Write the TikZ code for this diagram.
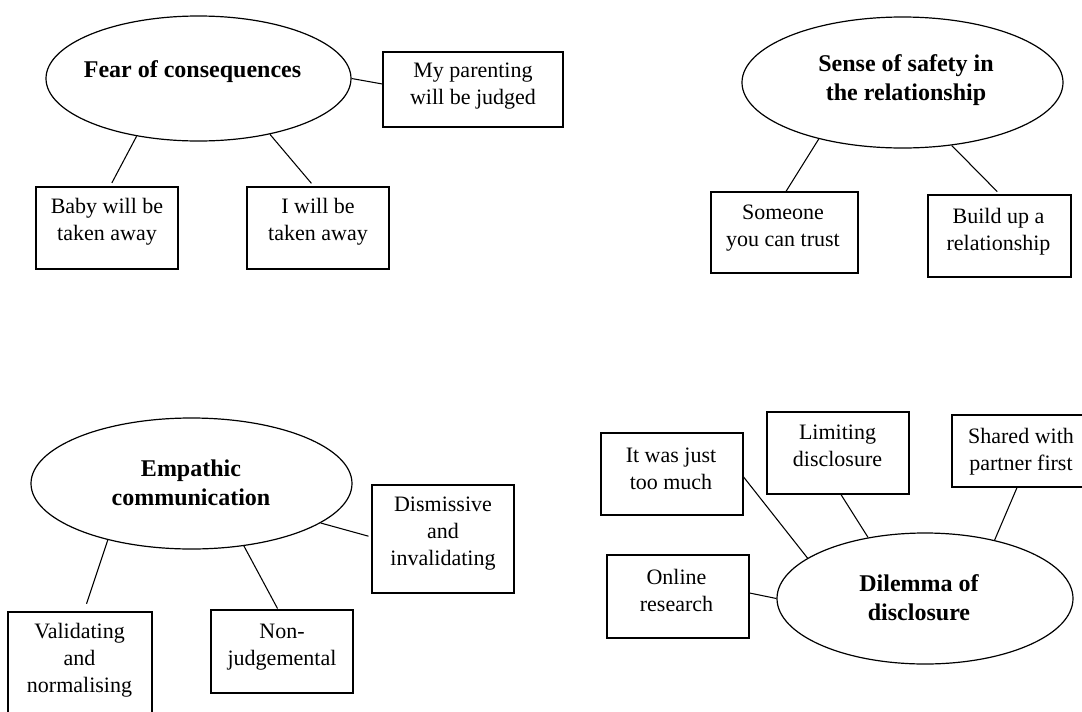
\documentclass[tikz,border=0pt]{standalone}
\usepackage{fontspec}
\setmainfont{Liberation Serif}
\usetikzlibrary{shapes.geometric,calc}
\def\u{0.75pt}
\tikzset{
  hub/.style={draw, ellipse, inner sep=0pt, line width=0.9pt},
  leaf/.style={draw, rectangle, inner sep=0pt, line width=0.9pt},
  sz/.style 2 args={minimum width=#1*\u, minimum height=#2*\u},
  hubtext/.style={align=center, inner sep=0pt, font=\fontsize{18pt}{22pt}\selectfont\bfseries},
  leaftext/.style={align=center, inner sep=0pt, font=\fontsize{16.5pt}{20.25pt}\selectfont},
  link/.style={line width=0.8pt},
}
\begin{document}
\begin{tikzpicture}[x=0.75pt,y=-0.75pt]
\useasboundingbox (0,0) rectangle (1082,711);
\clip (0,0) rectangle (1082,711);
\fill[white] (0,0) rectangle (1082,711);

% ---- Fear of consequences
\node[hub, sz={305}{125}] (e1) at (198.5,78.5) {};
\node[hubtext] (t1) at (192.5,72) {Fear of consequences};
\node[leaf, sz={180}{75}] (b11) at (473,89.5) {};
\node[leaftext] (t11) at (473,86) {My parenting\\will be judged};
\node[leaf, sz={142}{82}] (b12) at (107,228) {};
\node[leaftext] (t12) at (107,221.5) {Baby will be\\taken away};
\node[leaf, sz={142}{82}] (b13) at (318,228) {};
\node[leaftext] (t13) at (318,221.5) {I will be\\taken away};

% ---- Sense of safety
\node[hub, sz={321}{131}] (e2) at (902.5,82.5) {};
\node[hubtext] (t2) at (906,80) {Sense of safety in\\the relationship};
\node[leaf, sz={147}{81}] (b21) at (784.5,232.5) {};
\node[leaftext] (t21) at (783,228.5) {Someone\\you can trust};
\node[leaf, sz={143}{82}] (b22) at (999.5,236) {};
\node[leaftext] (t22) at (998.5,231.5) {Build up a\\relationship};

% ---- Empathic communication
\node[hub, sz={321}{131}] (e3) at (191.5,483.5) {};
\node[hubtext] (t3) at (191,482.5) {Empathic\\communication};
\node[leaf, sz={142}{108}] (b31) at (443,539) {};
\node[leaftext] (t31) at (443,534) {Dismissive\\and\\invalidating};
\node[leaf, sz={142}{83}] (b32) at (282,651.5) {};
\node[leaftext] (t32) at (282,647) {Non-\\judgemental};
\node[leaf, sz={144}{108}] (b33) at (80,666) {};
\node[leaftext] (t33) at (79.5,660) {Validating\\and\\normalising};

% ---- Dilemma of disclosure
\node[hub, sz={296}{131}] (e4) at (925,598.5) {};
\node[hubtext] (t4) at (919,597.5) {Dilemma of\\disclosure};
\node[leaf, sz={142}{82}] (b41) at (672,474) {};
\node[leaftext] (t41) at (671,469) {It was just\\too much};
\node[leaf, sz={142}{82}] (b42) at (838,453) {};
\node[leaftext] (t42) at (837.5,446) {Limiting\\disclosure};
\node[leaf, sz={142}{72}] (b43) at (1023,451) {};
\node[leaftext] (t43) at (1021,451.5) {Shared with\\partner first};
\node[leaf, sz={142}{83}] (b44) at (678,596.5) {};
\node[leaftext] (t44) at (676.5,590) {Online\\research};

% ---- connectors
\draw[link] (e1.east) -- ([yshift=5.5*\u]b11.west);
\draw[link, shorten >=4*\u] (e1.223.5) -- ([xshift=3*\u]b12.north);
\draw[link, shorten >=4*\u] (e1.-38.4) -- ([xshift=-4*\u]b13.north);
\draw[link] (e2.214.5) -- ([xshift=1.5*\u]b21.north);
\draw[link, shorten >=4*\u] (e2.-52.1) -- ([xshift=0.5*\u]b22.north);
\draw[link, shorten >=3*\u] (e3.-17.5) -- ([yshift=2*\u]b31.west);
\draw[link, shorten >=1*\u] (e3.-50.5) -- ([xshift=-4*\u]b32.north);
\draw[link, shorten >=8*\u] (e3.214.5) -- ([xshift=4*\u]b33.north);
\draw[link] (e4.161.5) -- ([yshift=-3*\u]b41.east);
\draw[link] (e4.133.8) -- ([xshift=3*\u]b42.south);
\draw[link] (e4.40.4) -- ([xshift=-6*\u]b43.south);
\draw[link] (e4.west) -- ([yshift=3.5*\u]b44.east);
\end{tikzpicture}
\end{document}
